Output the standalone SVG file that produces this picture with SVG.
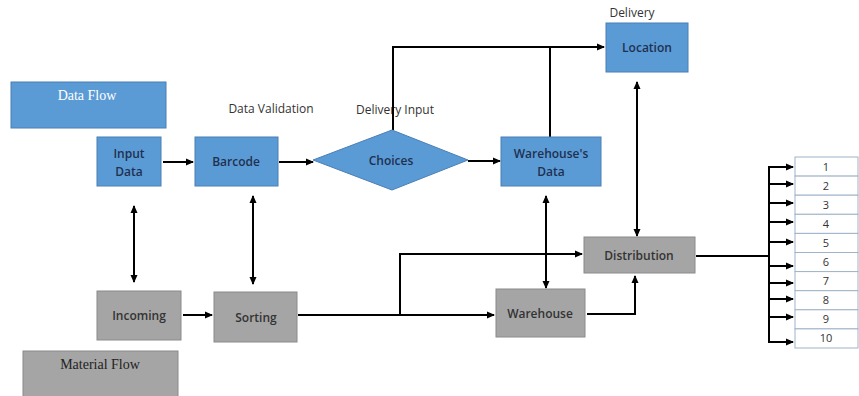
<svg xmlns="http://www.w3.org/2000/svg" width="859" height="396" viewBox="0 0 859 396">
<defs>
<marker id="ah" markerWidth="8" markerHeight="8" refX="7" refY="4" orient="auto-start-reverse" markerUnits="userSpaceOnUse">
<path d="M0,0.5 L8,4 L0,7.5 Z" fill="#000"/>
</marker>
</defs>
<style>
.blue{fill:#5b9bd5;stroke:#4a7fb5;stroke-width:1}
.gray{fill:#a5a5a5;stroke:#8a8a8a;stroke-width:1}
.bt{font-family:"Open Sans","Noto Sans",sans-serif;font-size:12px;font-weight:600;fill:#1f3050;text-anchor:middle}
.gt{font-family:"Open Sans","Noto Sans",sans-serif;font-size:12px;font-weight:600;fill:#333;text-anchor:middle}
.lbl{font-family:"Open Sans","Noto Sans",sans-serif;font-size:12px;fill:#333;text-anchor:middle}
.ser{font-family:"Liberation Serif",serif;font-size:14px;text-anchor:middle}
.ln{fill:none;stroke:#000;stroke-width:2}
.row{fill:#fff;stroke:#9fb3c8;stroke-width:1}
.num{font-family:"Open Sans","Noto Sans",sans-serif;font-size:11px;fill:#333;text-anchor:middle}
</style>
<rect width="859" height="396" fill="#fff"/>

<g id="legend-data"><rect class="blue" x="11" y="82" width="155" height="46"/><text class="ser" x="87" y="100" fill="#fff">Data Flow</text></g>
<g id="legend-material"><rect class="gray" x="23" y="351" width="155" height="48"/><text class="ser" x="100" y="369" fill="#222">Material Flow</text></g>

<text class="lbl" x="271" y="113">Data Validation</text>
<text class="lbl" x="395" y="114">Delivery Input</text>
<text class="lbl" x="632" y="17">Delivery</text>

<g id="connectors">
<line class="ln" x1="163" y1="162" x2="193" y2="162" marker-end="url(#ah)"/>
<line class="ln" x1="279" y1="162" x2="313" y2="162" marker-end="url(#ah)"/>
<line class="ln" x1="468" y1="161" x2="500" y2="161" marker-end="url(#ah)"/>
<polyline class="ln" points="393,130 393,47 604,47" marker-end="url(#ah)"/>
<line class="ln" x1="550" y1="137" x2="550" y2="47"/>
<line class="ln" x1="637" y1="82" x2="637" y2="236" marker-start="url(#ah)" marker-end="url(#ah)"/>
<line class="ln" x1="134" y1="206" x2="134" y2="282" marker-start="url(#ah)" marker-end="url(#ah)"/>
<line class="ln" x1="253" y1="196" x2="253" y2="284" marker-start="url(#ah)" marker-end="url(#ah)"/>
<line class="ln" x1="546" y1="196" x2="546" y2="288" marker-start="url(#ah)" marker-end="url(#ah)"/>
<line class="ln" x1="183" y1="315" x2="212" y2="315" marker-end="url(#ah)"/>
<polyline class="ln" points="298,315 494,315" marker-end="url(#ah)"/>
<polyline class="ln" points="400,315 400,254 582,254" marker-end="url(#ah)"/>
<polyline class="ln" points="587,314 635,314 635,276" marker-end="url(#ah)"/>
<line class="ln" x1="696" y1="256" x2="769" y2="256"/>
<line class="ln" x1="769" y1="166" x2="769" y2="343"/>
<line class="ln" x1="768" y1="167" x2="793" y2="167" marker-end="url(#ah)"/>
<line class="ln" x1="768" y1="184" x2="793" y2="184" marker-end="url(#ah)"/>
<line class="ln" x1="768" y1="203" x2="793" y2="203" marker-end="url(#ah)"/>
<line class="ln" x1="768" y1="222" x2="793" y2="222" marker-end="url(#ah)"/>
<line class="ln" x1="768" y1="242" x2="793" y2="242" marker-end="url(#ah)"/>
<line class="ln" x1="768" y1="266" x2="793" y2="266" marker-end="url(#ah)"/>
<line class="ln" x1="768" y1="283" x2="793" y2="283" marker-end="url(#ah)"/>
<line class="ln" x1="768" y1="299" x2="793" y2="299" marker-end="url(#ah)"/>
<line class="ln" x1="768" y1="317" x2="793" y2="317" marker-end="url(#ah)"/>
<line class="ln" x1="768" y1="342" x2="793" y2="342" marker-end="url(#ah)"/>
</g>

<g id="input-data"><rect class="blue" x="97" y="137" width="64" height="49"/><text class="bt" x="129" y="158">Input</text><text class="bt" x="129" y="176">Data</text></g>
<g id="barcode"><rect class="blue" x="195" y="137" width="83" height="49"/><text class="bt" x="236" y="166">Barcode</text></g>
<g id="choices"><polygon class="blue" points="313,160 392,130 468,160 392,190"/><text class="bt" x="391" y="165">Choices</text></g>
<g id="warehouses-data"><rect class="blue" x="501" y="137" width="100" height="49"/><text class="bt" x="551" y="158">Warehouse's</text><text class="bt" x="551" y="176">Data</text></g>
<g id="location"><rect class="blue" x="606" y="23" width="82" height="49"/><text class="bt" x="647" y="52">Location</text></g>
<g id="incoming"><rect class="gray" x="97" y="291" width="84" height="49"/><text class="gt" x="139" y="320">Incoming</text></g>
<g id="sorting"><rect class="gray" x="214" y="292" width="83" height="50"/><text class="gt" x="256" y="322">Sorting</text></g>
<g id="warehouse"><rect class="gray" x="496" y="289" width="89" height="48"/><text class="gt" x="540" y="318">Warehouse</text></g>
<g id="distribution"><rect class="gray" x="584" y="237" width="111" height="36"/><text class="gt" x="639" y="260">Distribution</text></g>

<g id="table">
<rect class="row" x="795" y="157" width="63" height="19.1"/><text class="num" x="826" y="171">1</text>
<rect class="row" x="795" y="176.1" width="63" height="19.1"/><text class="num" x="826" y="190">2</text>
<rect class="row" x="795" y="195.2" width="63" height="19.1"/><text class="num" x="826" y="209">3</text>
<rect class="row" x="795" y="214.3" width="63" height="19.1"/><text class="num" x="826" y="228">4</text>
<rect class="row" x="795" y="233.4" width="63" height="19.1"/><text class="num" x="826" y="247">5</text>
<rect class="row" x="795" y="252.5" width="63" height="19.1"/><text class="num" x="826" y="266">6</text>
<rect class="row" x="795" y="271.6" width="63" height="19.1"/><text class="num" x="826" y="285">7</text>
<rect class="row" x="795" y="290.7" width="63" height="19.1"/><text class="num" x="826" y="304">8</text>
<rect class="row" x="795" y="309.8" width="63" height="19.1"/><text class="num" x="826" y="323">9</text>
<rect class="row" x="795" y="328.9" width="63" height="19.1"/><text class="num" x="826" y="342">10</text>
</g>
</svg>
